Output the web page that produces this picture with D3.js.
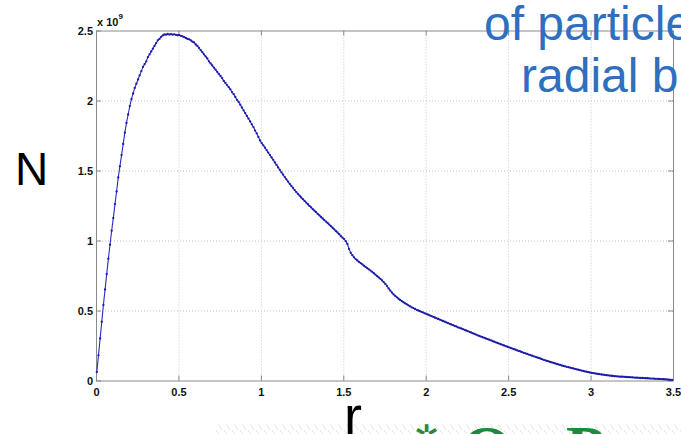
<!DOCTYPE html>
<html>
<head>
<meta charset="utf-8">
<script src="https://cdn.jsdelivr.net/npm/d3@7"></script>
<style>
  html, body { margin: 0; padding: 0; background: #fff; }
  svg { display: block; }
  text { font-family: "Liberation Sans", Arial, sans-serif; }
</style>
</head>
<body>
<svg id="chart" width="681" height="434"></svg>
<script>
// Radial sampling: bin centres r = 0.005, 0.015, ... 3.495
const binStart = 0.005;
const binWidth = 0.01;

// Particle count per radial bin, in units of 1e9 (one row per 0.1 in r)
const countRows = [
  [0.06, 0.18, 0.30, 0.42, 0.54, 0.65, 0.76, 0.87, 0.97, 1.07],
  [1.16, 1.26, 1.35, 1.45, 1.53, 1.61, 1.69, 1.77, 1.84, 1.90],
  [1.96, 2.01, 2.05, 2.09, 2.12, 2.15, 2.18, 2.21, 2.24, 2.26],
  [2.28, 2.31, 2.33, 2.35, 2.37, 2.39, 2.41, 2.43, 2.44, 2.455],
  [2.465, 2.472, 2.47, 2.475, 2.471, 2.474, 2.47, 2.473, 2.469, 2.466],
  [2.467, 2.462, 2.458, 2.452, 2.447, 2.44, 2.437, 2.43, 2.42, 2.415],
  [2.40, 2.39, 2.375, 2.36, 2.345, 2.33, 2.315, 2.30, 2.28, 2.265],
  [2.25, 2.235, 2.22, 2.205, 2.19, 2.175, 2.16, 2.14, 2.125, 2.11],
  [2.095, 2.08, 2.06, 2.045, 2.025, 2.005, 1.99, 1.97, 1.95, 1.93],
  [1.91, 1.89, 1.87, 1.85, 1.83, 1.81, 1.785, 1.765, 1.74, 1.715],
  [1.695, 1.68, 1.663, 1.645, 1.628, 1.61, 1.593, 1.576, 1.558, 1.54],
  [1.522, 1.504, 1.487, 1.47, 1.453, 1.437, 1.421, 1.405, 1.39, 1.375],
  [1.36, 1.346, 1.333, 1.32, 1.307, 1.295, 1.283, 1.271, 1.259, 1.247],
  [1.236, 1.224, 1.213, 1.202, 1.19, 1.179, 1.168, 1.157, 1.146, 1.135],
  [1.125, 1.114, 1.102, 1.091, 1.08, 1.068, 1.057, 1.045, 1.032, 1.02],
  [1.01, 0.995, 0.975, 0.94, 0.912, 0.895, 0.88, 0.867, 0.857, 0.848],
  [0.839, 0.83, 0.82, 0.811, 0.802, 0.794, 0.785, 0.776, 0.766, 0.756],
  [0.746, 0.736, 0.726, 0.715, 0.703, 0.69, 0.675, 0.658, 0.642, 0.628],
  [0.615, 0.604, 0.594, 0.584, 0.575, 0.567, 0.559, 0.551, 0.544, 0.537],
  [0.53, 0.523, 0.517, 0.511, 0.505, 0.50, 0.495, 0.49, 0.485, 0.48],
  [0.475, 0.47, 0.465, 0.46, 0.455, 0.45, 0.445, 0.44, 0.435, 0.43],
  [0.425, 0.42, 0.415, 0.41, 0.405, 0.40, 0.396, 0.39, 0.386, 0.38],
  [0.376, 0.372, 0.367, 0.362, 0.357, 0.352, 0.348, 0.343, 0.338, 0.333],
  [0.328, 0.323, 0.318, 0.314, 0.309, 0.305, 0.30, 0.296, 0.291, 0.287],
  [0.282, 0.277, 0.273, 0.268, 0.264, 0.259, 0.255, 0.25, 0.246, 0.241],
  [0.237, 0.233, 0.228, 0.224, 0.22, 0.215, 0.211, 0.207, 0.202, 0.198],
  [0.194, 0.19, 0.185, 0.181, 0.177, 0.173, 0.169, 0.165, 0.161, 0.157],
  [0.152, 0.148, 0.144, 0.14, 0.137, 0.133, 0.129, 0.126, 0.122, 0.118],
  [0.115, 0.111, 0.107, 0.104, 0.101, 0.098, 0.095, 0.092, 0.089, 0.086],
  [0.083, 0.08, 0.077, 0.074, 0.071, 0.068, 0.065, 0.063, 0.06, 0.057],
  [0.055, 0.053, 0.051, 0.049, 0.047, 0.045, 0.043, 0.042, 0.04, 0.038],
  [0.037, 0.035, 0.034, 0.032, 0.031, 0.03, 0.029, 0.028, 0.027, 0.027],
  [0.026, 0.025, 0.024, 0.024, 0.023, 0.022, 0.021, 0.02, 0.02, 0.019],
  [0.018, 0.018, 0.017, 0.016, 0.016, 0.015, 0.014, 0.014, 0.013, 0.012],
  [0.012, 0.011, 0.01, 0.01, 0.009, 0.008, 0.007, 0.006, 0.005, 0.004]
];

const xTicks = [0, 0.5, 1, 1.5, 2, 2.5, 3, 3.5];
const xTickLabels = ["0", "0.5", "1", "1.5", "2", "2.5", "3", "3.5"];
const yTicks = [0, 0.5, 1, 1.5, 2, 2.5];
const yTickLabels = ["0", "0.5", "1", "1.5", "2", "2.5"];
const titleLines = ["of particle", "radial b"];

const counts = countRows.flat();
const points = counts.map((n, i) => ({ r: binStart + i * binWidth, n }));

const svg = d3.select("#chart");
const plotLeft = 96, plotRight = 673, plotTop = 30.5, plotBottom = 380.5;
const x = d3.scaleLinear().domain([0, 3.5]).range([plotLeft, plotRight]);
const y = d3.scaleLinear().domain([0, 2.5]).range([plotBottom, plotTop]);

const frameColor = "#8a8a8a";
const gridColor = "#c4c4c4";

// faint hatched strip along the bottom edge (slide background)
const defs = svg.append("defs");
const hatch = defs.append("pattern")
  .attr("id", "hatch").attr("patternUnits", "userSpaceOnUse")
  .attr("width", 8).attr("height", 10);
hatch.append("path").attr("d", "M0,0 L6,10").attr("stroke", "#dfe8df").attr("stroke-width", 1);
svg.append("rect")
  .attr("x", 215).attr("y", 424).attr("width", 466).attr("height", 10)
  .attr("fill", "url(#hatch)");

// dotted grid
const grid = svg.append("g");
grid.append("g")
  .attr("transform", `translate(0,${plotBottom})`)
  .call(d3.axisBottom(x).tickValues(xTicks.slice(1, -1)).tickSize(-(plotBottom - plotTop)).tickFormat(""))
  .call(g => g.select(".domain").remove())
  .call(g => g.selectAll("line").attr("stroke", gridColor).attr("stroke-dasharray", "1,2"));
grid.append("g")
  .attr("transform", `translate(${plotLeft},0)`)
  .call(d3.axisLeft(y).tickValues(yTicks.slice(1, -1)).tickSize(-(plotRight - plotLeft)).tickFormat(""))
  .call(g => g.select(".domain").remove())
  .call(g => g.selectAll("line").attr("stroke", gridColor).attr("stroke-dasharray", "1,2"));

// axes with inward ticks on all four sides
function styleAxis(g) {
  g.select(".domain").attr("stroke", frameColor);
  g.selectAll(".tick line").attr("stroke", frameColor);
  g.selectAll("text")
    .attr("fill", "#111")
    .style("font-size", "11px")
    .style("font-weight", "bold")
    .style("font-family", "'Liberation Sans', Arial, sans-serif");
}
svg.append("g")
  .attr("transform", `translate(0,${plotBottom})`)
  .call(d3.axisBottom(x).tickValues(xTicks).tickSizeInner(-5).tickSizeOuter(0).tickPadding(8)
    .tickFormat((d, i) => xTickLabels[i]))
  .call(styleAxis);
svg.append("g")
  .attr("transform", `translate(${plotLeft},0)`)
  .call(d3.axisLeft(y).tickValues(yTicks).tickSizeInner(-5).tickSizeOuter(0).tickPadding(3)
    .tickFormat((d, i) => yTickLabels[i]))
  .call(styleAxis);
svg.append("g")
  .attr("transform", `translate(0,${plotTop})`)
  .call(d3.axisTop(x).tickValues(xTicks).tickSizeInner(-5).tickSizeOuter(0).tickFormat(""))
  .call(styleAxis);
svg.append("g")
  .attr("transform", `translate(${plotRight},0)`)
  .call(d3.axisRight(y).tickValues(yTicks).tickSizeInner(-5).tickSizeOuter(0).tickFormat(""))
  .call(styleAxis);

// exponent label
const expo = svg.append("text")
  .attr("x", 97).attr("y", 26)
  .style("font-size", "11px").style("font-weight", "bold").attr("fill", "#111");
expo.append("tspan").text("x 10");
expo.append("tspan").attr("dy", -7).style("font-size", "8px").text("9");

// curve with point markers
const lineColor = "#2a2ac0";
svg.append("path")
  .datum(points)
  .attr("fill", "none")
  .attr("stroke", lineColor)
  .attr("stroke-width", 1.1)
  .attr("d", d3.line().x(d => x(d.r)).y(d => y(d.n)));
svg.append("g")
  .selectAll("circle")
  .data(points)
  .join("circle")
  .attr("cx", d => x(d.r))
  .attr("cy", d => y(d.n))
  .attr("r", 1.15)
  .attr("fill", "#1c1ca8");

// axis names
svg.append("text").attr("x", 15).attr("y", 185)
  .style("font-size", "46px").attr("fill", "#000").text("N");
svg.append("text").attr("x", 344).attr("y", 434)
  .style("font-size", "54px").attr("fill", "#000").text("r");

// heading fragment in the upper right
svg.selectAll(".heading")
  .data(titleLines)
  .join("text")
  .attr("class", "heading")
  .attr("x", (d, i) => i === 0 ? 484 : 521)
  .attr("y", (d, i) => 40 + i * 52)
  .style("font-size", "48px")
  .attr("fill", "#2f6fbf")
  .text(d => d);

// logo fragment along the bottom edge
const logo = svg.append("g");
logo.append("text").attr("x", 462).attr("y", 470)
  .style("font-size", "64px").style("font-family", "'Liberation Serif', serif").style("font-weight", "bold")
  .attr("fill", "#1e8a3c").text("O");
logo.append("text").attr("x", 566).attr("y", 470)
  .style("font-size", "64px").style("font-family", "'Liberation Serif', serif").style("font-weight", "bold")
  .attr("fill", "#1e8a3c").text("P");
logo.append("text").attr("x", 414).attr("y", 446)
  .style("font-size", "30px").attr("fill", "#2a8a3c").text("✲");
</script>
</body>
</html>
